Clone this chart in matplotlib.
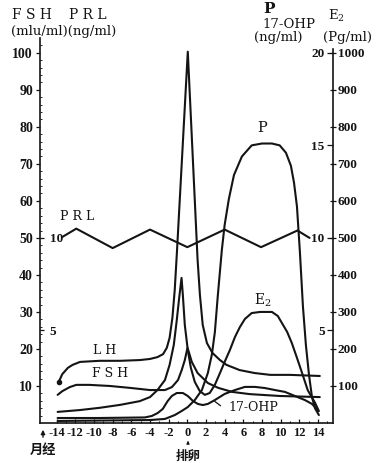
import matplotlib
matplotlib.use("Agg")
import matplotlib.pyplot as plt

# ======================================
# DATOS
# ======================================

# LH y FSH en mIU/ml (eje izquierdo)
lh_dias = [-13.8, -13.4, -12.8, -12.3, -11.5, -9.4, -7.2, -5.1, -4.0, -3.2, -2.6, -2.2,
           -1.9, -1.6, -1.35, -1.1, 0.05, 1.1, 1.35, 1.65, 2.1, 2.7, 3.5, 4.2, 5.6,
           7.2, 8.9, 11.0, 14.2]
lh_vals = [11.0, 13.2, 14.9, 15.7, 16.5, 16.8, 16.8, 17.0, 17.3, 17.8, 18.6, 20.3,
           23.0, 28.4, 35.9, 46.8, 100.3, 44.1, 34.6, 26.5, 21.6, 18.9, 17.0, 15.7, 14.3,
           13.5, 13.0, 13.0, 12.7]

fsh_dias = [-13.9, -13.4, -12.6, -11.9, -10.5, -8.3, -6.2, -4.0, -2.4, -1.65, -1.0,
            -0.6, -0.27, 0.02, 0.16, 0.48, 1.1, 2.2, 3.3, 4.8, 6.7, 9.9, 14.2]
fsh_vals = [7.6, 8.6, 9.7, 10.3, 10.3, 10.0, 9.5, 8.9, 8.9, 9.7, 11.6,
            14.3, 17.0, 20.3, 19.2, 16.5, 13.5, 10.8, 9.5, 8.4, 7.8, 7.3, 7.0]

# PRL en ng/ml
prl_dias = [-13.4, -11.9, -8.0, -4.0, 0.0, 4.0, 7.9, 11.8, 13.1]
prl_vals = [10.05, 10.5, 9.45, 10.45, 9.5, 10.45, 9.5, 10.4, 10.0]

# E2 en pg/ml
e2_dias = [-13.9, -11.5, -9.4, -7.2, -5.1, -4.0, -3.2, -2.4, -1.9, -1.45, -1.13, -0.9,
           -0.62, -0.48, -0.27, 0.05, 0.38, 0.8, 1.34, 1.88, 2.4, 2.95, 3.5, 4.0, 4.56,
           5.1, 5.63, 6.17, 6.9, 7.8, 9.07, 9.7, 10.14, 10.7, 11.2, 11.75, 12.3, 12.9,
           13.7, 14.1]
e2_vals = [30, 35, 41, 49, 59, 70, 89, 116, 157, 211, 278, 332,
           392, 346, 265, 197, 149, 111, 86, 76, 81, 103, 135, 165, 197,
           232, 259, 281, 297, 300, 300, 289, 270, 246, 216, 176, 135, 89,
           54, 32]

# P y 17-OHP en ng/ml
p_dias = [-13.9, -4.0, -2.4, -1.34, -0.6, 0.05, 0.8, 1.56, 2.2, 2.63, 2.95, 3.27, 3.7,
          4.0, 4.45, 5.0, 5.85, 6.9, 8.0, 9.07, 9.9, 10.57, 11.1, 11.43, 11.75, 12.07,
          12.39, 12.71, 13.04, 13.36, 13.68, 14.1]
p_vals = [0.11, 0.16, 0.22, 0.43, 0.65, 0.86, 1.24, 1.78, 2.7, 3.7, 4.9, 6.9, 9.35,
          10.7, 12.1, 13.4, 14.4, 15.0, 15.1, 15.1, 15.0, 14.6, 13.9, 13.0, 11.7, 9.2,
          6.3, 4.2, 2.6, 1.4, 0.8, 0.43]

ohp_dias = [-13.9, -9.4, -4.56, -3.8, -3.17, -2.63, -2.1, -1.66, -1.13, -0.48, 0.05,
            0.6, 1.13, 1.66, 2.2, 2.95, 4.0, 5.1, 6.17, 7.24, 8.3, 9.4, 10.46, 11.53,
            12.6, 13.36, 14.0]
ohp_vals = [0.27, 0.27, 0.30, 0.38, 0.54, 0.76, 1.19, 1.46, 1.62, 1.62, 1.46,
            1.19, 1.03, 0.97, 1.03, 1.24, 1.57, 1.78, 1.95, 1.95, 1.89, 1.78, 1.68, 1.46,
            1.24, 1.03, 0.70]

dias_ticks = list(range(-14, 15, 2))
dias_etiq = ["-14", "-12", "-10", "-8", "-6", "-4", "-2", "0", "2", "4", "6", "8",
             "10", "12", "14"]

# ======================================
# FIGURA
# ======================================

plt.rcParams["font.family"] = ["Liberation Serif", "Noto Sans CJK SC", "DejaVu Sans"]
plt.rcParams["mathtext.fontset"] = "dejavuserif"

NEGRO = "#141414"
SERIF = ["DejaVu Serif", "Noto Sans CJK SC"]

fig = plt.figure(figsize=(3.8, 4.63), dpi=100)
fig.patch.set_facecolor("white")
ax = fig.add_axes([0.105, 0.0864, 0.771, 0.8315])
ax.set_xlim(-15.8, 15.6)
ax.set_ylim(0, 104)

for s in ["top", "right"]:
    ax.spines[s].set_visible(False)
for s in ["left", "bottom"]:
    ax.spines[s].set_linewidth(1.2)
    ax.spines[s].set_color(NEGRO)

ax.set_xticks(dias_ticks)
ax.set_xticklabels(dias_etiq, fontweight="bold", fontsize=9)
ax.set_xticks([d + 1 for d in range(-15, 15)], minor=True)
ax.tick_params(axis="x", direction="in", length=3, width=0.9, pad=3, colors=NEGRO)
ax.tick_params(axis="x", which="minor", direction="in", length=1.5, width=0.7)

ax.set_yticks(range(10, 101, 10))
ax.set_yticklabels([str(v) for v in range(10, 101, 10)], fontweight="bold", fontsize=10)
ax.set_yticks(range(2, 104, 2), minor=True)
ax.tick_params(axis="y", direction="out", length=3, width=0.9, pad=2, colors=NEGRO)
ax.tick_params(axis="y", which="minor", direction="in", length=1.5, width=0.6)

# eje E2 (derecha, fuera)
ax_e2 = ax.twinx()
ax_e2.set_ylim(0, 1040)
for s in ["top", "left", "bottom"]:
    ax_e2.spines[s].set_visible(False)
ax_e2.spines["right"].set_linewidth(1.2)
ax_e2.spines["right"].set_color(NEGRO)
ax_e2.spines["right"].set_bounds(0, 1010)
ax_e2.set_yticks(range(100, 1001, 100))
ax_e2.set_yticklabels([str(v) for v in range(100, 1001, 100)], fontweight="bold",
                      fontsize=9.5)
ax_e2.tick_params(axis="y", direction="inout", length=5, width=0.9, pad=1, colors=NEGRO)

# eje P / 17-OHP (derecha, dentro)
ax_p = ax.twinx()
ax_p.set_ylim(0, 20.8)
for s in ax_p.spines.values():
    s.set_visible(False)
ax_p.set_yticks([5, 10, 15, 20], labels=["5", "10", "15", "20"], ha="right",
                fontweight="bold", fontsize=9.5)
ax_p.tick_params(axis="y", direction="in", length=4, width=0.9, pad=-6, colors=NEGRO)

# eje PRL (izquierda, dentro)
ax_prl = ax.twinx()
ax_prl.set_ylim(0, 20.8)
for s in ax_prl.spines.values():
    s.set_visible(False)
ax_prl.yaxis.tick_left()
ax_prl.set_yticks([5, 10], labels=["5", "10"], ha="left", fontweight="bold",
                  fontsize=9.5)
ax_prl.tick_params(axis="y", direction="in", length=3, width=0.9, pad=-7, colors=NEGRO)

# ======================================
# CURVAS
# ======================================

kw = dict(color=NEGRO, lw=1.5, solid_joinstyle="round", solid_capstyle="round")
ax.plot(lh_dias, lh_vals, marker="o", markevery=[0], markersize=3, **kw)
ax.plot(fsh_dias, fsh_vals, **kw)
ax_prl.plot(prl_dias, prl_vals, **kw)
ax_e2.plot(e2_dias, e2_vals, **kw)
ax_p.plot(p_dias, p_vals, **kw)
ax_p.plot(ohp_dias, ohp_vals, **kw)

# ======================================
# TEXTOS
# ======================================

tk = dict(family=SERIF, color=NEGRO, ha="center", va="center")
ax.text(-11.85, 55.7, "P R L", fontsize=9, **tk)
ax.text(-8.85, 19.7, "L H", fontsize=9, **tk)
ax.text(-8.3, 13.5, "F S H", fontsize=9, **tk)
ax.text(8.0, 79.7, "P", fontsize=10.5, **tk)
ax.text(8.1, 33.2, "E$_2$", fontsize=10, **tk)
ax.text(7.1, 4.1, "17-OHP", fontsize=9, **tk)
ax.annotate("", xy=(2.7, 6.3), xytext=(3.8, 4.2),
            arrowprops=dict(arrowstyle="-", lw=0.9, color=NEGRO))

W, H = 380.0, 463.0
def ftxt(x, y, s, **k):
    fig.text(x / W, 1 - y / H, s, **k)

ftxt(32, 15, "F S H", fontsize=10, **tk)
ftxt(88, 15, "P R L", fontsize=10, **tk)
ftxt(64, 32, "(mlu/ml)(ng/ml)", fontsize=9.5, **tk)
ftxt(269, 9, "P", fontsize=11, fontweight="bold", **tk)
ftxt(289, 25, "17-OHP", fontsize=9.5, **tk)
ftxt(336, 16, "E$_2$", fontsize=9.5, **tk)
ftxt(278, 38, "(ng/ml)", fontsize=9.5, **tk)
ftxt(348, 38, "(Pg/ml)", fontsize=9.5, **tk)

ftxt(43, 450, "月经", fontsize=9.5, fontweight="bold", family=["Noto Sans CJK SC"],
     color=NEGRO, ha="center", va="center")
ftxt(188, 456, "排卵", fontsize=9, fontweight="bold", family=["Noto Sans CJK SC"],
     color=NEGRO, ha="center", va="center")

# flechas bajo el eje
flecha = dict(arrowstyle="-|>", lw=1.0, color=NEGRO, mutation_scale=6)
ax.annotate("", xy=(43, H - 427), xytext=(43, H - 440), xycoords="figure pixels",
            textcoords="figure pixels", arrowprops=flecha, annotation_clip=False)
ax.annotate("", xy=(188, H - 438), xytext=(188, H - 446), xycoords="figure pixels",
            textcoords="figure pixels",
            arrowprops=dict(arrowstyle="-|>", lw=0.8, color=NEGRO, mutation_scale=4),
            annotation_clip=False)

fig.savefig("out.png", dpi=100, facecolor="white")
